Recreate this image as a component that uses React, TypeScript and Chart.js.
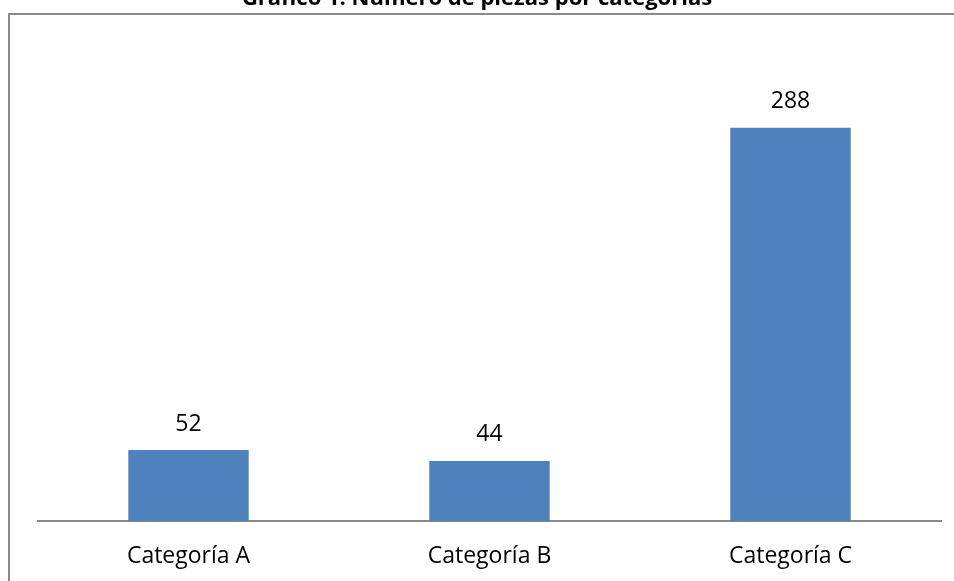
import React, { useEffect, useRef } from "react";
import { Chart, registerables } from "chart.js";

Chart.register(...registerables);

const categories = ["Categoría A", "Categoría B", "Categoría C"];
const values = [52, 44, 288];
const titleText = "Gráfico 1: Número de piezas por categorías";

const FONT = "'Open Sans', Lato, sans-serif";

const framePlugin = {
  id: "frame",
  beforeDraw(chart: any) {
    const ctx = chart.ctx;
    ctx.save();
    ctx.strokeStyle = "#8a8a8a";
    ctx.lineWidth = 2;
    ctx.beginPath();
    ctx.moveTo(9, 600);
    ctx.lineTo(9, 14);
    ctx.lineTo(960, 14);
    ctx.stroke();
    ctx.fillStyle = "#000";
    ctx.font = `bold 22px ${FONT}`;
    ctx.textAlign = "center";
    ctx.textBaseline = "alphabetic";
    ctx.fillText(titleText, 477, 5);
    ctx.restore();
  },
  afterDatasetsDraw(chart: any) {
    const ctx = chart.ctx;
    const meta = chart.getDatasetMeta(0);
    const xs = chart.scales.x;
    ctx.save();
    ctx.fillStyle = "#000";
    ctx.font = `23px ${FONT}`;
    ctx.textAlign = "center";
    ctx.textBaseline = "middle";
    meta.data.forEach((bar: any, i: number) => {
      ctx.fillText(String(values[i]), bar.x, bar.y - 26);
    });
    categories.forEach((c, i) => {
      ctx.fillText(c, xs.getPixelForValue(i), 556);
    });
    ctx.restore();
  },
};

export default function App() {
  const ref = useRef<HTMLCanvasElement>(null);
  useEffect(() => {
    if (!ref.current) return;
    const chart = new Chart(ref.current, {
      type: "bar",
      data: {
        labels: categories,
        datasets: [
          {
            data: values,
            backgroundColor: "#4f81bd",
            categoryPercentage: 1,
            barPercentage: 0.4,
          },
        ],
      },
      options: {
        animation: false,
        responsive: false,
        layout: { padding: { left: 38, right: 13, top: 43, bottom: 60 } },
        plugins: { legend: { display: false }, tooltip: { enabled: false } },
        scales: {
          x: {
            grid: { display: false, drawTicks: false },
            border: { display: true, color: "#8a8a8a", width: 2 },
            ticks: { display: false },
          },
          y: { display: false, min: 0, max: 350 },
        },
      },
      plugins: [framePlugin],
    });
    return () => chart.destroy();
  }, []);
  return (
    <div style={{ position: "fixed", left: 0, top: 0, width: 954, height: 581, background: "#fff" }}>
      <canvas ref={ref} width={954} height={581} />
    </div>
  );
}
